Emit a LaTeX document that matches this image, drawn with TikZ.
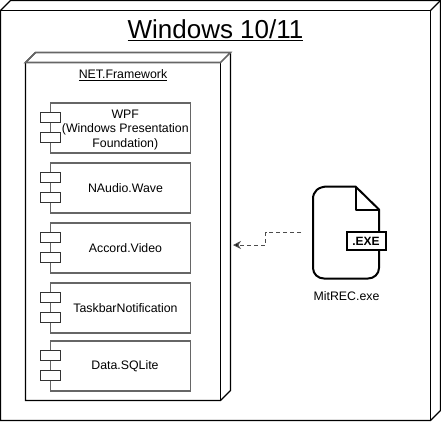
\documentclass[tikz,border=0pt]{standalone}
\usetikzlibrary{arrows.meta}
\usepackage{fontspec}
\setmainfont{Liberation Sans}
\tikzset{
  x=0.75pt,y=-0.75pt,
  boxline/.style={draw=black,line width=0.9pt,line join=miter},
  greyline/.style={draw=black!60,line width=1.2pt},
  compbox/.style={draw=black!60,line width=1.25pt,fill=white,rectangle,outer sep=0pt,minimum width=140*0.75pt,inner sep=0pt,anchor=north west,align=center},
  lug/.style={draw=black!80,line width=0.9pt,fill=white},
  label9/.style={font=\fontsize{9.25}{10.9}\selectfont,align=center,inner sep=0pt},
}
\newcommand{\comp}[6]{%
  \node[compbox,minimum height=#3*0.75pt] (#1) at (50.5,#2) {};
  \node[label9] (#1t) at (#5,#2+#3/2+#6) {#4};
  \draw[lug] (40.5,#2+10) rectangle (60.5,#2+20);
  \draw[lug] (40.5,#2+30) rectangle (60.5,#2+40);
}
\begin{document}
\begin{tikzpicture}
\useasboundingbox (0,0) rectangle (441,421);
% outer node
\draw[boxline] (0.5,10.5) -- (10.5,0.5) -- (440.5,0.5) -- (440.5,410.5) -- (430.5,420.5) -- (0.5,420.5) -- cycle;
\draw[boxline] (0.5,10.5) -- (430.5,10.5) -- (430.5,420.5);
\draw[boxline] (430.5,10.5) -- (440.5,0.5);
\node[font=\fontsize{19.5}{23}\selectfont,inner sep=0pt] (title) at (215.5,30.5) {\underline{Windows 10/11}};
% inner node
\draw[boxline] (35.5,52.5) -- (25.5,62.5) -- (25.5,400.5) -- (220.5,400.5) -- (230.5,390.5) -- (230.5,52.5);
\draw[boxline] (220.5,62.5) -- (220.5,400.5);
\draw[greyline] (25.5,62.5) -- (35.5,52.5) -- (230.5,52.5) -- (220.5,62.5) -- cycle;
\node[label9] (fw) at (123,75) {\underline{NET.Framework}};
\comp{wpf}{102.7}{50}{WPF\\(Windows Presentation\\Foundation)}{125.3}{2}
\comp{naudio}{162.7}{50}{NAudio.Wave}{125.5}{0.3}
\comp{accord}{222.7}{50}{Accord.Video}{125.5}{0.3}
\comp{taskbar}{282.7}{50}{TaskbarNotification}{125.5}{0.3}
\comp{sqlite}{340.7}{50}{Data.SQLite}{125}{0.3}
% file icon
\draw[draw=black,line width=1.5pt,line join=round,fill=white] (355.5,186.5) -- (328,186.5) .. controls (318,186.5) and (313,191.5) .. (313,199) -- (313,268) .. controls (313,274) and (318,278.5) .. (324,278.5) -- (368,278.5) .. controls (374,278.5) and (379,274) .. (379,268) -- (379,209.5) -- cycle;
\draw[draw=black,line width=1.5pt,line join=round] (355.5,186.5) -- (355.5,209.5) -- (379,209.5);
\node[draw=black,line width=1.5pt,fill=white,minimum width=39*0.75pt,minimum height=18*0.75pt,inner sep=0pt,font=\fontsize{9}{11}\bfseries\selectfont] (exe) at (366,241) {.EXE};
\node[label9] (mit) at (346.5,296.5) {MitREC.exe};
% connector
\coordinate (cs) at (301,232.5);
\coordinate (ce) at (233,245);
\draw[draw=black!70,line width=0.75pt,dash pattern=on 3pt off 2.25pt,-{Stealth[length=6pt,width=6pt,fill=black]}] (cs) -- (265.5,232.5) -- (265.5,245) -- (ce);
\end{tikzpicture}
\end{document}
